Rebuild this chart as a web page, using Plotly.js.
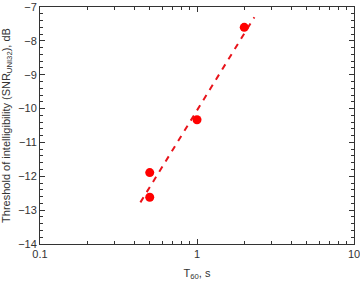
<!DOCTYPE html>
<html><head><meta charset="utf-8">
<script src="https://cdn.plot.ly/plotly-3.0.1.min.js"></script>
<style>body{margin:0;padding:0;background:#fff}#plot{width:360px;height:281px}</style>
</head><body><div id="plot"></div>
<script>
var t60 = [2.0, 1.0, 0.5, 0.5];
var snr = [-7.6, -10.33, -11.89, -12.62];
var fitX = [0.436, 2.32];
var fitY = [-12.77, -7.30];
var xTickVals = [0.1, 1, 10];
var xTickText = ['0.1', '1', '10'];
var xMinor = [0.2,0.3,0.4,0.5,0.6,0.7,0.8,0.9,2,3,4,5,6,7,8,9];

var traces = [
  {x: fitX, y: fitY, mode: 'lines', type: 'scatter',
   line: {color: '#e8141b', width: 2, dash: '6px,6px'}, hoverinfo: 'skip'},
  {x: t60, y: snr, mode: 'markers', type: 'scatter',
   marker: {color: '#ff0000', size: 9}}
];
var axisFont = {family: 'Arial, Liberation Sans, sans-serif', size: 11, color: '#333'};
var layout = {
  width: 360, height: 281,
  margin: {l: 40, r: 6, t: 7, b: 37},
  showlegend: false,
  paper_bgcolor: '#fff', plot_bgcolor: '#fff',
  font: axisFont,
  xaxis: {
    type: 'log', range: [-1, 1], tickmode: 'array', tickvals: xTickVals, ticktext: xTickText,
    ticks: 'inside', ticklen: 5, tickcolor: '#333', showgrid: false, zeroline: false,
    showline: true, linecolor: '#333', linewidth: 1, mirror: 'ticks',
    ticklabeloverflow: 'allow', automargin: false,
    minor: {tickmode: 'array', tickvals: xMinor, ticks: 'inside', ticklen: 3, tickcolor: '#333', showgrid: false},
    tickfont: axisFont,
    title: {text: 'T<sub>60</sub>, s', font: axisFont, standoff: 11}
  },
  yaxis: {
    range: [-14, -7], dtick: 1, tick0: -14,
    ticks: 'inside', ticklen: 5, tickcolor: '#333', showgrid: false, zeroline: false,
    showline: true, linecolor: '#333', linewidth: 1, mirror: 'ticks',
    ticklabeloverflow: 'allow', automargin: false,
    minor: {dtick: 0.2, ticks: 'inside', ticklen: 3, tickcolor: '#333', showgrid: false},
    tickfont: axisFont,
    title: {text: 'Threshold of intelligibility (SNR<sub>UNI32</sub>), dB', font: axisFont, standoff: 6}
  }
};
Plotly.newPlot('plot', traces, layout, {staticPlot: true, displayModeBar: false});
</script></body></html>
